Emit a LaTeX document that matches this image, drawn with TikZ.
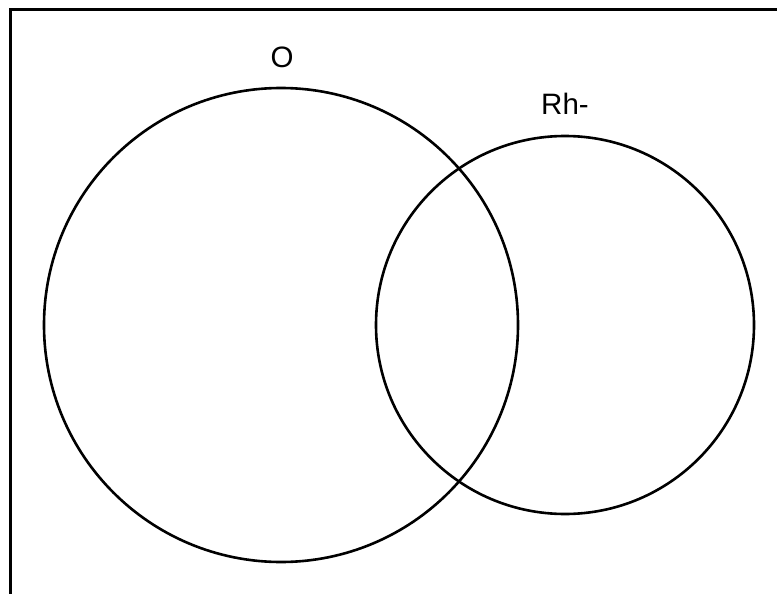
\documentclass[tikz,border=0pt]{standalone}
\usepackage{fontspec}
\setmainfont{Liberation Sans}
\begin{document}
\begin{tikzpicture}[x=1pt,y=-1pt,
  ring/.style={draw=black,line width=2.6pt,circle},
  lbl/.style={font=\fontsize{29.5}{34}\selectfont,inner sep=0pt}]
\useasboundingbox (0,0) rectangle (777,594);
\draw[line width=3pt] (10,600) -- (10,10) -- (785,10);
\node[ring,minimum size=474pt] (o) at (281,325) {};
\node[ring,minimum size=378pt] (rh) at (565,325) {};
\node[lbl] (lo) at (282,57) {O};
\node[lbl] (lrh) at (565,104) {Rh-};
\end{tikzpicture}
\end{document}
